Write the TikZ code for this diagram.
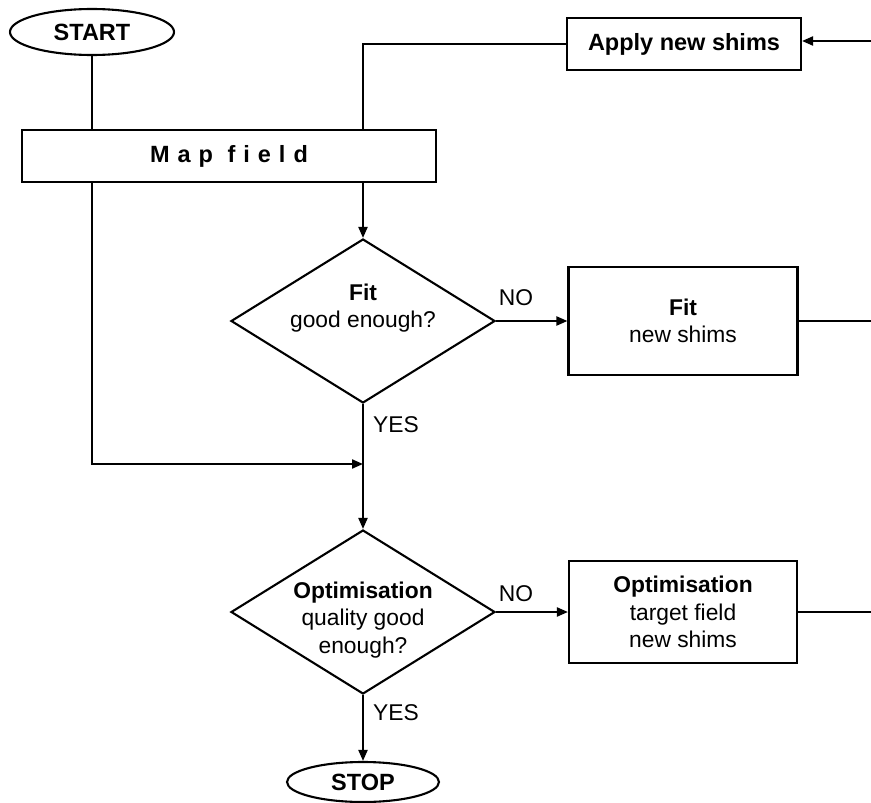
\documentclass[tikz,border=0pt]{standalone}
\usepackage{fontspec}
\setmainfont{Liberation Sans}
\usetikzlibrary{shapes.geometric,arrows.meta}
\begin{document}
\begin{tikzpicture}[x=1pt,y=-1pt,
  every node/.style={font=\fontsize{22.8}{27.5}\selectfont},
  ln/.style={line width=2.1pt},
  arr/.style={ln,-{Triangle[length=11pt,width=9pt]}},
  term/.style={ellipse,draw,ln,inner sep=0pt,font=\fontsize{23.5}{27.5}\selectfont\bfseries},
  box/.style={rectangle,draw,ln,inner sep=0pt,align=center},
  dec/.style={diamond,draw,ln,inner sep=0pt,aspect=1.61,minimum width=264pt,minimum height=164pt},
  txt/.style={align=center,inner sep=0pt},
  lab/.style={inner sep=0pt}
]
\useasboundingbox (0,0) rectangle (871,803);
% nodes
\node[term,minimum width=164pt,minimum height=46pt] (start) at (92,32) {START};
\node[box,minimum width=414pt,minimum height=52pt] (map) at (229,156)
  {\fontsize{23.5}{27.5}\selectfont\bfseries\addfontfeature{LetterSpace=34}Map field};
\node[box,minimum width=234pt,minimum height=52pt,font=\fontsize{23.5}{27.5}\selectfont\bfseries] (apply) at (684,44) {Apply new shims};
\node[dec] (fitd) at (363,321) {};
\node[txt] (fitdt) at (363,308) {\textbf{Fit}\\good enough?};
\node[box,minimum width=229pt,minimum height=108pt] (fitb) at (683,321) {\textbf{Fit}\\new shims};
\node[dec] (optd) at (363,612) {};
\node[txt] (optdt) at (363,620) {\textbf{Optimisation}\\quality good\\enough?};
\node[box,minimum width=228pt,minimum height=102pt] (optb) at (683,612) {\textbf{Optimisation}\\target field\\new shims};
\node[term,minimum width=152pt,minimum height=40pt] (stop) at (363,782) {STOP};
% labels
\node[lab] (no1) at (516,298) {NO};
\node[lab] (no2) at (516,594) {NO};
\node[lab,anchor=west] (yes1) at (373,425) {YES};
\node[lab,anchor=west] (yes2) at (373,713) {YES};
% helper coordinates
\coordinate (mtop) at (363,130);
\coordinate (mbot) at (363,182);
\coordinate (lbot) at (92,182);
\coordinate (join) at (363,464);
\coordinate (rin) at (871,41);
\coordinate (rout1) at (871,321);
\coordinate (rout2) at (871,612);
% connectors
\draw[ln] (start.south) -- (start.south |- map.north);
\draw[ln] (mtop) |- (apply.west);
\draw[arr] (rin) -- (apply.east |- rin);
\draw[arr] (mbot) -- (fitd.north);
\draw[arr] (lbot) |- (join);
\draw[arr] (fitd.east) -- (fitb.west);
\draw[ln] (fitb.east) -- (rout1);
\draw[arr] (fitd.south) -- (optd.north);
\draw[arr] (optd.east) -- (optb.west);
\draw[ln] (optb.east) -- (rout2);
\draw[arr] (optd.south) -- (stop.north);
\end{tikzpicture}
\end{document}
